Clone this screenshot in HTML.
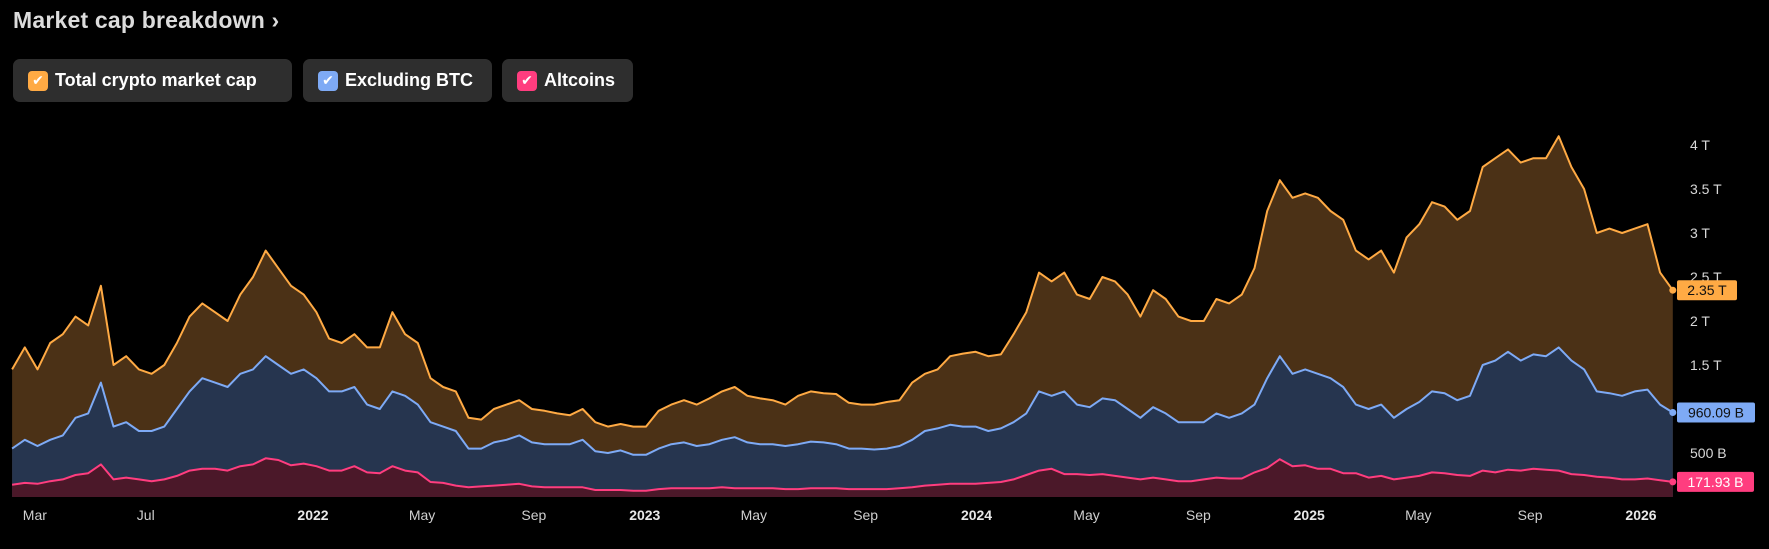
<!DOCTYPE html>
<html><head><meta charset="utf-8"><style>
body{margin:0;background:#000;width:1769px;height:549px;overflow:hidden;font-family:"Liberation Sans","DejaVu Sans",sans-serif}
.title{position:absolute;left:13px;top:7px;color:#dcdcdc;font-size:23px;font-weight:bold;letter-spacing:0.2px}
.btn{position:absolute;top:59px;height:43px;background:#2e2e2e;border-radius:7px;color:#fff;font-weight:bold;font-size:18px;display:flex;align-items:center;box-sizing:border-box;padding-left:15px}
.cb{width:20px;height:20px;border-radius:4px;margin-right:7px;display:flex;align-items:center;justify-content:center;color:#fff;font-size:14px}
</style></head><body>
<div class="title">Market cap breakdown ›</div>
<div class="btn" style="left:13px;width:279px"><span class="cb" style="background:#ffaa44">✔</span>Total crypto market cap</div>
<div class="btn" style="left:303px;width:189px"><span class="cb" style="background:#7eaaf5">✔</span>Excluding BTC</div>
<div class="btn" style="left:502px;width:131px"><span class="cb" style="background:#ff3d7f">✔</span>Altcoins</div>
<svg id="chart" width="1769" height="549" style="position:absolute;left:0;top:0"></svg>
<script>
const startDate = Date.UTC(2021,1,4);
const stepDays = 14;
const totalVals = [1.45,1.7,1.45,1.75,1.85,2.05,1.95,2.4,1.5,1.6,1.45,1.4,1.5,1.75,2.05,2.2,2.1,2.0,2.3,2.5,2.8,2.6,2.4,2.3,
2.1,1.8,1.75,1.85,1.7,1.7,2.1,1.85,1.75,1.35,1.25,1.2,0.9,0.88,1.0,1.05,1.1,1.0,0.98,0.95,0.93,1.0,0.85,0.8,0.83,0.8,
0.8,0.98,1.05,1.1,1.05,1.12,1.2,1.25,1.15,1.12,1.1,1.05,1.15,1.2,1.18,1.17,1.07,1.05,1.05,1.08,1.1,1.3,1.4,1.45,1.6,1.63,
1.65,1.6,1.62,1.85,2.1,2.55,2.45,2.55,2.3,2.25,2.5,2.45,2.3,2.05,2.35,2.25,2.05,2.0,2.0,2.25,2.2,2.3,2.6,3.25,3.6,3.4,
3.45,3.4,3.25,3.15,2.8,2.7,2.8,2.55,2.95,3.1,3.35,3.3,3.15,3.25,3.75,3.85,3.95,3.8,3.85,3.85,4.1,3.75,3.5,3.0,3.05,3.0,
3.05,3.1,2.55,2.35];
const exBtcVals = [0.55,0.65,0.58,0.65,0.7,0.9,0.95,1.3,0.8,0.85,0.75,0.75,0.8,1.0,1.2,1.35,1.3,1.25,1.4,1.45,1.6,1.5,1.4,1.45,
1.35,1.2,1.2,1.25,1.05,1.0,1.2,1.15,1.05,0.85,0.8,0.75,0.55,0.55,0.62,0.65,0.7,0.62,0.6,0.6,0.6,0.65,0.52,0.5,0.53,0.48,
0.48,0.55,0.6,0.62,0.58,0.6,0.65,0.68,0.62,0.6,0.6,0.58,0.6,0.63,0.62,0.6,0.55,0.55,0.54,0.55,0.58,0.65,0.75,0.78,0.82,0.8,
0.8,0.75,0.78,0.85,0.95,1.2,1.15,1.2,1.05,1.02,1.12,1.1,1.0,0.9,1.02,0.95,0.85,0.85,0.85,0.95,0.9,0.95,1.05,1.35,1.6,1.4,
1.45,1.4,1.35,1.25,1.05,1.0,1.05,0.9,1.0,1.08,1.2,1.18,1.1,1.15,1.5,1.55,1.65,1.55,1.62,1.6,1.7,1.55,1.45,1.2,1.18,1.15,
1.2,1.22,1.05,0.96];
const altVals = [0.14,0.16,0.15,0.18,0.2,0.25,0.27,0.37,0.2,0.22,0.2,0.18,0.2,0.24,0.3,0.32,0.32,0.3,0.35,0.37,0.44,0.42,0.36,0.38,
0.35,0.3,0.3,0.35,0.28,0.27,0.35,0.3,0.28,0.17,0.16,0.13,0.11,0.12,0.13,0.14,0.15,0.12,0.11,0.11,0.11,0.11,0.08,0.08,0.08,0.07,
0.07,0.09,0.1,0.1,0.1,0.1,0.11,0.1,0.1,0.1,0.1,0.09,0.09,0.1,0.1,0.1,0.09,0.09,0.09,0.09,0.1,0.11,0.13,0.14,0.15,0.15,
0.15,0.16,0.17,0.2,0.25,0.3,0.32,0.26,0.26,0.25,0.26,0.24,0.22,0.2,0.22,0.2,0.18,0.18,0.2,0.22,0.21,0.21,0.28,0.33,0.43,0.35,
0.36,0.32,0.32,0.27,0.27,0.22,0.24,0.2,0.22,0.24,0.28,0.27,0.25,0.24,0.3,0.28,0.31,0.3,0.32,0.31,0.3,0.26,0.25,0.23,0.22,0.2,
0.2,0.21,0.19,0.172];
const yTicks = [0.5,1.5,2,2.5,3,3.5,4];
const yTickLabels = ["500 B","1.5 T","2 T","2.5 T","3 T","3.5 T","4 T"];
const xTickDates = [[2021,2],[2021,6],[2022,0],[2022,4],[2022,8],[2023,0],[2023,4],[2023,8],[2024,0],[2024,4],[2024,8],[2025,0],[2025,4],[2025,8],[2026,0]];
const xTickLabels = ["Mar","Jul","2022","May","Sep","2023","May","Sep","2024","May","Sep","2025","May","Sep","2026"];
const lastLabels = ["2.35 T","960.09 B","171.93 B"];

const NS="http://www.w3.org/2000/svg";
const svg=document.getElementById('chart');
const d0=Date.UTC(2022,0,1), d1=Date.UTC(2026,0,1);
function xScale(t){return 313+(t-d0)/(d1-d0)*(1641-313);}
function xIdx(i){const n=totalVals.length-1;const t=startDate+i*stepDays*864e5;const endT=Date.UTC(2026,1,5);const last=startDate+n*stepDays*864e5;return xScale(startDate+(t-startDate)*(endT-startDate)/(last-startDate));}
function yScale(v){return 497-v*88;}
function mk(tag,attrs){const e=document.createElementNS(NS,tag);for(const k in attrs)e.setAttribute(k,attrs[k]);svg.appendChild(e);return e;}
const series=[[totalVals,'#4b3116','#ffaa44','total'],[exBtcVals,'#26354f','#7eaaf5','excluding-btc'],[altVals,'#4b1829','#ff3d7f','altcoins']];
series.forEach(([vals,fill,stroke,name])=>{
  let pts=vals.map((v,i)=>xIdx(i).toFixed(1)+','+yScale(v).toFixed(1));
  const area=mk('path',{d:'M'+xIdx(0)+','+yScale(0)+' L'+pts.join(' L')+' L'+xIdx(vals.length-1)+','+yScale(0)+' Z',fill:fill});
  
  
});
series.forEach(([vals,fill,stroke,name],si)=>{
  let pts=vals.map((v,i)=>xIdx(i).toFixed(1)+','+yScale(v).toFixed(1));
  const line=mk('polyline',{points:pts.join(' '),fill:'none',stroke:stroke,'stroke-width':2,'stroke-linejoin':'round'});
  
  
  const n=vals.length-1;
  const dot=mk('circle',{cx:xIdx(n),cy:yScale(vals[n]),r:3.5,fill:stroke});
  
  
});
yTicks.forEach((v,i)=>{
  const t=mk('text',{x:1690,y:yScale(v)+5,fill:'#d8d8d8','font-size':14,'font-family':'Liberation Sans, sans-serif'});
  t.textContent=yTickLabels[i];
  
  
});
xTickDates.forEach((d,i)=>{
  const isYear=d[1]===0;
  const t=mk('text',{x:xScale(Date.UTC(d[0],d[1],1)),y:520,fill:isYear?'#e8e8e8':'#cfcfcf','font-size':14,'font-weight':isYear?'bold':'normal','text-anchor':'middle','font-family':'Liberation Sans, sans-serif'});
  t.textContent=xTickLabels[i];
  
  
});
series.forEach(([vals,fill,stroke,name],si)=>{
  const n=vals.length-1;const y=yScale(vals[n]);
  const w=[60,78,77][si];
  const r=mk('rect',{x:1677,y:y-10,width:w,height:20,rx:2,fill:stroke});
  
  
  const t=mk('text',{x:1677+w/2,y:y+5,fill:si==2?'#fff':'#111','font-size':14,'text-anchor':'middle','font-family':'Liberation Sans, sans-serif'});
  t.textContent=lastLabels[si];
  
  
});
</script>
</body></html>
